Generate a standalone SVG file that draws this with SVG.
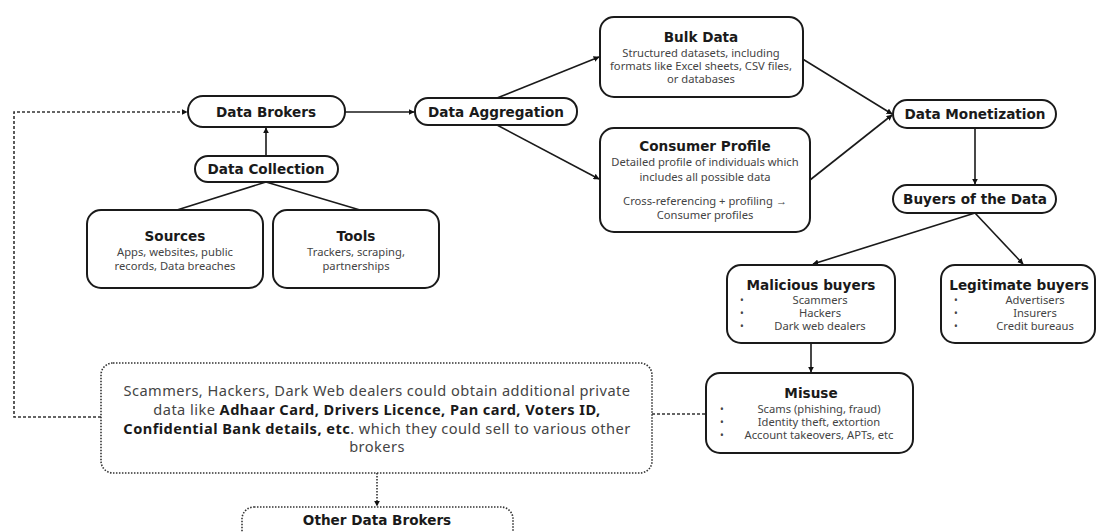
<svg xmlns="http://www.w3.org/2000/svg" width="1098" height="532" viewBox="0 0 1098 532">
<defs>
<marker id="arr" viewBox="0 0 10 10" refX="9" refY="5" markerWidth="6" markerHeight="6" orient="auto" markerUnits="userSpaceOnUse">
<path d="M0,0 L10,5 L0,10 z" fill="#111"/>
</marker>
</defs>
<style>
.node{fill:#fff;stroke:#1a1a1a;stroke-width:2}
.dot{fill:#fff;stroke:#333;stroke-width:1.6;stroke-dasharray:1.5 1.5}
.t{font-family:"DejaVu Sans","Noto Sans",sans-serif;font-weight:bold;font-size:13.6px;fill:#1a1a1a;text-anchor:middle}
.s{font-family:"Noto Sans","Liberation Sans",sans-serif;font-size:11.2px;fill:#444;text-anchor:middle}
.b{font-family:"Noto Sans","Liberation Sans",sans-serif;font-size:10px;fill:#444}
.big{font-family:"Noto Sans","Liberation Sans",sans-serif;font-size:14.6px;letter-spacing:0.45px;fill:#444;text-anchor:middle}
.big tspan.k{font-weight:bold;fill:#1a1a1a}
.c{fill:none;stroke:#1a1a1a;stroke-width:1.6}
.cd{fill:none;stroke:#333;stroke-width:1.6;stroke-dasharray:3 2}
.cdt{fill:none;stroke:#333;stroke-width:1.6;stroke-dasharray:1.5 1.5}
</style>
<rect width="1098" height="532" fill="#fff"/>
<g id="connectors">
<path class="c" d="M266,156 L266,128" marker-end="url(#arr)"/>
<path class="c" d="M266,182 L177,210"/>
<path class="c" d="M266,182 L360,210"/>
<path class="c" d="M345,112 L414,112" marker-end="url(#arr)"/>
<path class="c" d="M497,98 L599,57" marker-end="url(#arr)"/>
<path class="c" d="M497,125 L599,179" marker-end="url(#arr)"/>
<path class="c" d="M801,58 L892,114" marker-end="url(#arr)"/>
<path class="c" d="M810,180 L892,115" marker-end="url(#arr)"/>
<path class="c" d="M975,128 L975,184" marker-end="url(#arr)"/>
<path class="c" d="M975,213 L813,264" marker-end="url(#arr)"/>
<path class="c" d="M975,213 L1023,264" marker-end="url(#arr)"/>
<path class="c" d="M811,343 L811,372" marker-end="url(#arr)"/>
<path class="cd" d="M652,414 L706,414"/>
<path class="cd" d="M101,417 L14,417 L14,112 L187,112" marker-end="url(#arr)"/>
<path class="cdt" d="M377,473 L377,506" marker-end="url(#arr)"/>
</g>
<g id="data-brokers">
<rect class="node" x="188" y="96" width="157" height="31" rx="15"/>
<text class="t" x="266" y="117">Data Brokers</text>
</g>
<g id="data-collection">
<rect class="node" x="195" y="156" width="143" height="26" rx="13"/>
<text class="t" x="266" y="174">Data Collection</text>
</g>
<g id="sources">
<rect class="node" x="87" y="210" width="176" height="78" rx="14"/>
<text class="t" x="175" y="241">Sources</text>
<text class="s" x="175" y="256">Apps, websites, public</text>
<text class="s" x="175" y="270">records, Data breaches</text>
</g>
<g id="tools">
<rect class="node" x="273" y="210" width="166" height="78" rx="14"/>
<text class="t" x="356" y="241">Tools</text>
<text class="s" x="356" y="256">Trackers, scraping,</text>
<text class="s" x="356" y="270">partnerships</text>
</g>
<g id="data-aggregation">
<rect class="node" x="415" y="98" width="162" height="27" rx="13"/>
<text class="t" x="496" y="117">Data Aggregation</text>
</g>
<g id="bulk-data">
<rect class="node" x="600" y="17" width="203" height="80" rx="14"/>
<text class="t" x="701" y="42">Bulk Data</text>
<text class="s" x="701" y="57">Structured datasets, including</text>
<text class="s" x="701" y="70">formats like Excel sheets, CSV files,</text>
<text class="s" x="701" y="83">or databases</text>
</g>
<g id="consumer-profile">
<rect class="node" x="600" y="128" width="210" height="104" rx="14"/>
<text class="t" x="705" y="151">Consumer Profile</text>
<text class="s" x="705" y="166">Detailed profile of individuals which</text>
<text class="s" x="705" y="181">includes all possible data</text>
<text class="s" x="705" y="205">Cross-referencing + profiling →</text>
<text class="s" x="705" y="219">Consumer profiles</text>
</g>
<g id="data-monetization">
<rect class="node" x="893" y="100" width="163" height="28" rx="14"/>
<text class="t" x="975" y="119">Data Monetization</text>
</g>
<g id="buyers">
<rect class="node" x="893" y="185" width="163" height="28" rx="14"/>
<text class="t" x="975" y="204">Buyers of the Data</text>
</g>
<g id="malicious-buyers">
<rect class="node" x="727" y="265" width="168" height="78" rx="14"/>
<text class="t" x="811" y="290">Malicious buyers</text>
<text class="b" x="740" y="304">•</text>
<text class="b" x="740" y="317">•</text>
<text class="b" x="740" y="330">•</text>
<text class="s" x="820" y="304">Scammers</text>
<text class="s" x="820" y="317">Hackers</text>
<text class="s" x="820" y="330">Dark web dealers</text>
</g>
<g id="legitimate-buyers">
<rect class="node" x="941" y="265" width="154" height="78" rx="14"/>
<text class="t" x="1019" y="290">Legitimate buyers</text>
<text class="b" x="954" y="304">•</text>
<text class="b" x="954" y="317">•</text>
<text class="b" x="954" y="330">•</text>
<text class="s" x="1035" y="304">Advertisers</text>
<text class="s" x="1035" y="317">Insurers</text>
<text class="s" x="1035" y="330">Credit bureaus</text>
</g>
<g id="misuse">
<rect class="node" x="706" y="373" width="207" height="80" rx="14"/>
<text class="t" x="811" y="398">Misuse</text>
<text class="b" x="720" y="413">•</text>
<text class="b" x="720" y="426">•</text>
<text class="b" x="720" y="439">•</text>
<text class="s" x="819" y="413">Scams (phishing, fraud)</text>
<text class="s" x="819" y="426">Identity theft, extortion</text>
<text class="s" x="819" y="439">Account takeovers, APTs, etc</text>
</g>
<g id="additional-data">
<rect class="dot" x="101" y="363" width="551" height="110" rx="12"/>
<text class="big" x="377" y="396">Scammers, Hackers, Dark Web dealers could obtain additional private</text>
<text class="big" x="377" y="415">data like <tspan class="k">Adhaar Card, Drivers Licence, Pan card, Voters ID,</tspan></text>
<text class="big" x="377" y="434"><tspan class="k">Confidential Bank details, etc</tspan>. which they could sell to various other</text>
<text class="big" x="377" y="452">brokers</text>
</g>
<g id="other-data-brokers">
<rect class="dot" x="242" y="507" width="271" height="40" rx="12"/>
<text class="t" x="377" y="525">Other Data Brokers</text>
</g>
</svg>
